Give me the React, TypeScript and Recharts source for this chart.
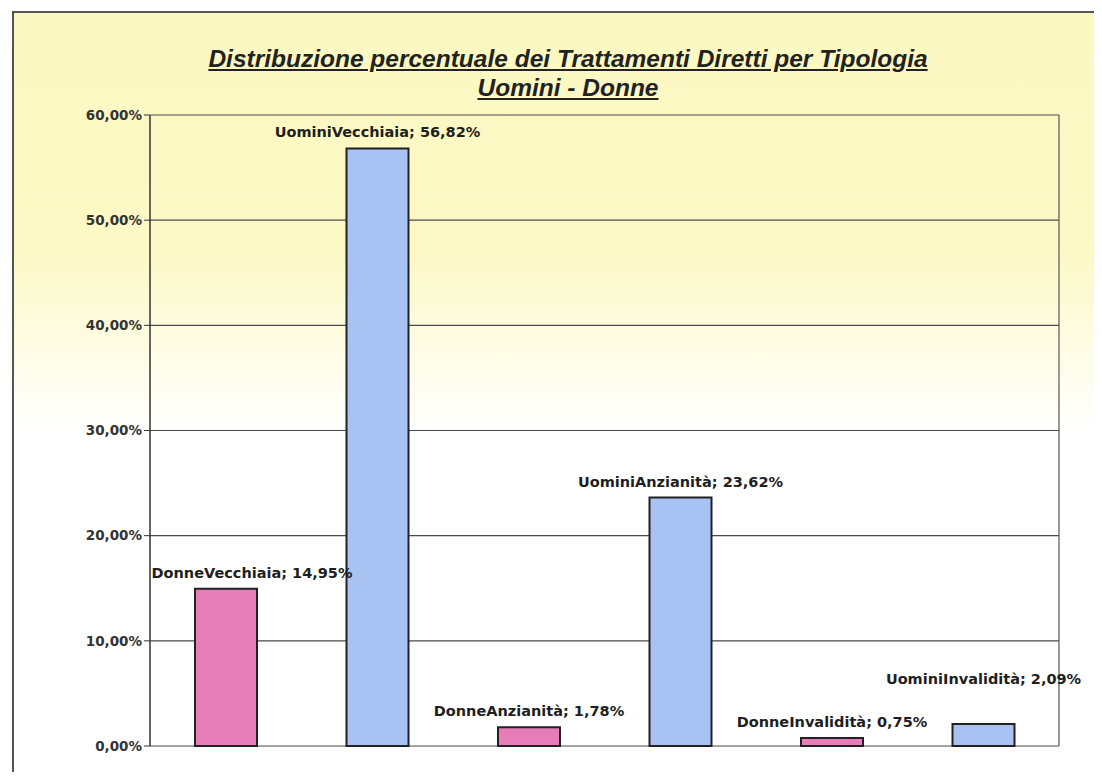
import React from 'react';
import { BarChart, Bar, XAxis, YAxis, CartesianGrid, Cell, LabelList } from 'recharts';

const categories = [
  'DonneVecchiaia',
  'UominiVecchiaia',
  'DonneAnzianità',
  'UominiAnzianità',
  'DonneInvalidità',
  'UominiInvalidità',
];
const percentages = [14.95, 56.82, 1.78, 23.62, 0.75, 2.09];
const yTicks = [0, 10, 20, 30, 40, 50, 60];

const PINK = '#e67db8';
const BLUE = '#a8c3f3';

const data = categories.map((name, i) => ({ name, value: percentages[i] }));

const fmt = (v: number) => `${v.toFixed(2).replace('.', ',')}%`;

// label placement tweaks, Excel pushed a couple of them around
const nudge: Record<number, { dx: number; dy: number }> = {
  0: { dx: 26, dy: 0 },
  5: { dx: 0, dy: -29 },
};

const BarLabel = (props: any) => {
  const { x, y, width, value, index } = props;
  const n = nudge[index] || { dx: 0, dy: 0 };
  return (
    <text
      x={x + width / 2 + n.dx}
      y={y - 11 + n.dy}
      textAnchor="middle"
      fontFamily="DejaVu Sans, sans-serif"
      fontWeight="bold"
      fontSize={14.5}
      fill="#1e1e1e"
    >
      {`${categories[index]}; ${fmt(value)}`}
    </text>
  );
};

export default function App() {
  return (
    <div style={{ position: 'relative', width: 1094, height: 764, overflow: 'hidden' }}>
      <div
        style={{
          position: 'absolute',
          left: 4,
          top: 3,
          width: 1090,
          height: 761,
          borderLeft: '2px solid #555',
          borderTop: '2px solid #555',
          background: 'linear-gradient(to bottom, #fcf8c2 0px, #fcf9c6 240px, #ffffff 420px)',
        }}
      />
      <div
        style={{
          position: 'absolute',
          left: 0,
          top: 36,
          width: 1094,
          paddingLeft: 26,
          boxSizing: 'border-box',
          textAlign: 'center',
          fontFamily: 'Liberation Sans, Arial, sans-serif',
          fontWeight: 'bold',
          fontStyle: 'italic',
          fontSize: 24.5,
          lineHeight: '29px',
          color: '#222',
          textDecoration: 'underline',
        }}
      >
        <div>Distribuzione percentuale dei Trattamenti Diretti per Tipologia</div>
        <div>Uomini - Donne</div>
      </div>
      <div style={{ position: 'absolute', left: 0, top: 0 }}>
        <BarChart
          width={1094}
          height={764}
          data={data}
          margin={{ top: 107, right: 42, bottom: 26, left: 0 }}
          barCategoryGap={0}
        >
          <CartesianGrid vertical={false} stroke="#4a4a4a" strokeWidth={1.2} />
          <XAxis dataKey="name" hide />
          <YAxis
            domain={[0, 60]}
            ticks={yTicks}
            tickFormatter={fmt}
            width={142}
            axisLine={{ stroke: '#333', strokeWidth: 1.5 }}
            tickLine={{ stroke: '#333' }}
            tickSize={6}
            tick={{ fill: '#333', fontSize: 13.5, fontFamily: 'DejaVu Sans, sans-serif', fontWeight: 'bold' }}
          />
          <YAxis
            yAxisId="right"
            orientation="right"
            domain={[0, 60]}
            width={1}
            tick={false}
            tickLine={false}
            axisLine={{ stroke: '#555', strokeWidth: 1.2 }}
          />
          <Bar dataKey="value" barSize={62} stroke="#222" strokeWidth={2} isAnimationActive={false}>
            {data.map((d, i) => (
              <Cell key={d.name} fill={i % 2 === 0 ? PINK : BLUE} />
            ))}
            <LabelList dataKey="value" content={BarLabel} />
          </Bar>
        </BarChart>
      </div>
    </div>
  );
}
